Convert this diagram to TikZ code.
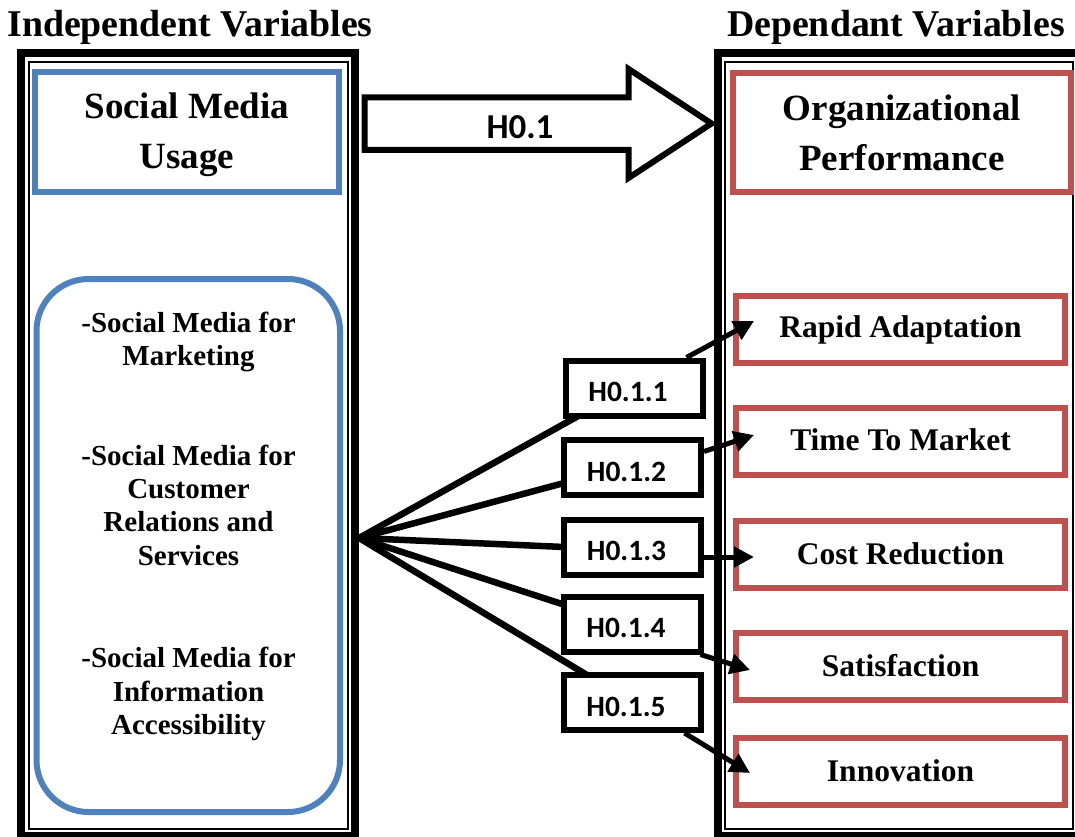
\documentclass[tikz,border=0pt]{standalone}
\usepackage{fontspec}
\setmainfont{Liberation Serif}
\newfontfamily\calib{Carlito}
\usetikzlibrary{calc,arrows.meta}
\definecolor{blu}{HTML}{4F81BD}
\definecolor{rd}{HTML}{C0504D}
\begin{document}
\begin{tikzpicture}[x=1pt,y=-1pt,
  thickframe/.style={line width=8pt},
  thinframe/.style={line width=2pt},
  titletext/.style={font=\bfseries\fontsize{37.8}{44}\selectfont, inner sep=0pt},
  bigtext/.style={font=\bfseries\fontsize{37}{50}\selectfont, align=center, inner sep=0pt},
  bluebox/.style={draw=blu, line width=6pt, fill=white, inner sep=0pt},
  listtext/.style={font=\bfseries\fontsize{29}{33.3}\selectfont, align=center, inner sep=0pt},
  redbox/.style={draw=rd, line width=6pt, fill=white, inner sep=0pt, minimum width=329pt, minimum height=67pt, font=\bfseries\fontsize{31.5}{36}\selectfont},
  hbox/.style={draw, line width=6pt, fill=white, minimum width=137pt, minimum height=55pt, inner sep=0pt, font=\calib\bfseries\fontsize{29.5}{30}\selectfont, text height=27pt, text depth=0pt},
  fanline/.style={line width=6.5pt},
  outarrow/.style={line width=5pt, -{Triangle[length=20pt,width=20pt]}}
]
\useasboundingbox (0,0) rectangle (1075,837);

% frames
\draw[thickframe] (21,53) rectangle (354.5,836);
\draw[thinframe] (29,61.7) rectangle (347.7,829);
\draw[thickframe] (717.5,53) rectangle (1080,836);
\draw[thinframe] (724.5,61.7) rectangle (1072.7,829);

% titles
\node[titletext, anchor=base] (tl) at (190,37) {Independent Variables};
\node[titletext, anchor=base] (tr) at (896,37) {Dependant Variables};

% left side
\node[bluebox, bigtext, minimum width=303.5pt, minimum height=119.5pt] (smu) at (186.75,131.75) {\rule{0pt}{32.5pt}Social Media\\Usage};
\node[draw=blu, line width=6pt, rounded corners=52pt, minimum width=303.5pt, minimum height=533pt, inner sep=0pt] (list) at (188.25,545.5) {};
\node[listtext] (l1) at (188.5,341.7) {-Social Media for\\Marketing};
\node[listtext] (l2) at (188.5,505) {-Social Media for\\Customer\\Relations and\\Services};
\node[listtext] (l3) at (188.5,694) {-Social Media for\\Information\\Accessibility};

% right side
\node[draw=rd, line width=6pt, fill=white, inner sep=0pt, bigtext, minimum width=338pt, minimum height=119pt] (op) at (902,132.5) {Organizational\\Performance};
\node[redbox] (ra) at (900.5,329.5) {Rapid Adaptation};
\node[redbox] (tm) at (900.5,441) {\raisebox{3pt}{Time To Market}};
\node[redbox] (cr) at (900.5,554) {Cost Reduction};
\node[redbox] (sa) at (900.5,666) {Satisfaction};
\node[redbox] (in) at (900.5,771) {Innovation};

% big arrow
\draw[line width=6pt, miter limit=10] (364.5,97.5) -- (628.5,97.5) -- (628.5,69) -- (711.5,123.5) -- (628.5,178) -- (628.5,150) -- (364.5,150) -- cycle;
\node[font=\calib\bfseries\fontsize{35}{36}\selectfont, inner sep=0pt] (h01) at (520,127.5) {H0.1};

% hypothesis box centres
\coordinate (fan) at (359,538);
\path (634,388) coordinate (c1) (632.5,467.5) coordinate (c2) (632.5,547) coordinate (c3) (632,624) coordinate (c4) (632,702.5) coordinate (c5);

% fan lines
\draw[fanline] (fan) -- ($(c1)+(-54,27)$);
\draw[fanline] (fan) -- ($(c2)+(-68.5,15.5)$);
\draw[fanline] (fan) -- ($(c3)+(-68.5,0)$);
\draw[fanline] (fan) -- ($(c4)+(-67,-19)$);
\draw[fanline] (fan) -- ($(c5)+(-45,-27.5)$);

\node[hbox] (h1) at (c1) {H0.1.1\hspace*{12pt}};
\node[hbox] (h2) at (c2) {H0.1.2\hspace*{12pt}};
\node[hbox] (h3) at (c3) {H0.1.3\hspace*{12pt}};
\node[hbox] (h4) at (c4) {H0.1.4\hspace*{12pt}};
\node[hbox] (h5) at (c5) {H0.1.5\hspace*{12pt}};

% output arrows
\draw[outarrow] ($(h1.north east)+(-19,0)$) -- ($(ra.west)+(21,-8.5)$);
\draw[outarrow] ($(h2.east)+(0,-16)$) -- ($(tm.west)+(21,-6)$);
\draw[outarrow] ($(h3.east)+(0,10)$) -- ($(cr.west)+(21,3)$);
\draw[outarrow] ($(h4.south east)+(-3,0)$) -- ($(sa.west)+(17,4)$);
\draw[outarrow] ($(h5.south east)+(-19,0)$) -- ($(in.west)+(17,2)$);
\end{tikzpicture}
\end{document}
